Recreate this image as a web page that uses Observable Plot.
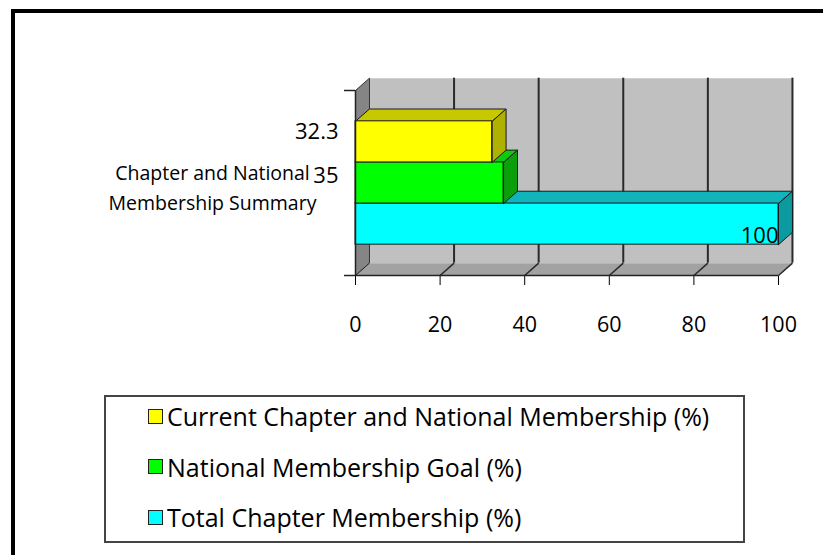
<!DOCTYPE html>
<html>
<head>
<meta charset="utf-8">
<script src="https://cdn.jsdelivr.net/npm/d3@7"></script>
<script src="https://cdn.jsdelivr.net/npm/@observablehq/plot@0.6"></script>
<style>
  html, body { margin: 0; padding: 0; background: #fff; }
  body { width: 823px; height: 555px; overflow: hidden; position: relative; font-family: "Open Sans", Lato, sans-serif; color: #000; }
  #frame { position: absolute; left: 11px; top: 9px; width: 900px; height: 700px; border-left: 4px solid #000; border-top: 4px solid #000; box-sizing: border-box; }
  #chart { position: absolute; left: 0; top: 0; }
  #legend { position: absolute; left: 104px; top: 395px; width: 641px; height: 148px; box-sizing: border-box; border: 2px solid #444; padding: 0 0 0 42px; }
  #rows { position: relative; top: -6px; }
  .row { display: flex; align-items: center; height: 50.5px; font-size: 25px; white-space: nowrap; }
  .sw { width: 13px; height: 13px; border: 1.5px solid #222; margin-right: 4px; flex: none; }
</style>
</head>
<body>
<div id="frame"></div>
<div id="chart"></div>
<div id="legend"><div id="rows"></div></div>
<script>
// ---- data ----
const categories = ["Chapter and National\nMembership Summary"];
const seriesNames = ["Current Chapter and National Membership (%)", "National Membership Goal (%)", "Total Chapter Membership (%)"];
const seriesValues = [32.3, 35, 100];
const valueLabels = ["32.3", "35", "100"];
const xTicks = [0, 20, 40, 60, 80, 100];

// ---- style ----
const frontColors = ["#ffff00", "#00ff00", "#00ffff"];
const topColors = ["#c8c800", "#10c810", "#12b4bc"];
const sideColors = ["#b0b000", "#0ba00b", "#0a9aa0"];
const DX = 3.3, DY = 0.3;          // 3D depth in scale units
const SLOTS = 4.5, GAP = 0.75;     // category slot height and outer gap (bar heights = 1)
const labelOffsets = [{dx: -17, dy: -10, atZero: true}, {dx: -17, dy: -7.5, atZero: true}, {dx: 0, dy: 11.5, atZero: false}];
const FONT = "'Open Sans', Lato, sans-serif";

const n = seriesNames.length;
const bars = seriesNames.map((name, i) => {
  const y0 = GAP + (n - 1 - i);
  return {name, i, value: seriesValues[i], label: valueLabels[i], y0, y1: y0 + 1};
});

function poly(pts, id) { return pts.concat([pts[0]]).map(([x, y]) => ({x, y, id})); }

const xMax = xTicks[xTicks.length - 1];
const backWall = poly([[DX, DY], [xMax + DX, DY], [xMax + DX, SLOTS + DY], [DX, SLOTS + DY]], "back");
const sideWall = poly([[0, 0], [DX, DY], [DX, SLOTS + DY], [0, SLOTS]], "side");
const floor = poly([[0, 0], [xMax, 0], [xMax + DX, DY], [DX, DY]], "floor");

const marks = [
  Plot.line(backWall, {x: "x", y: "y", fill: "#c0c0c0", stroke: "none"}),
  Plot.line(sideWall, {x: "x", y: "y", fill: "#858585", stroke: "#333", strokeWidth: 1}),
  Plot.line(floor, {x: "x", y: "y", fill: "#a2a2a2", stroke: "none"}),
  Plot.ruleX(xTicks.filter(t => t > 0), {x: t => t + DX, y1: DY, y2: SLOTS + DY, stroke: "#2a2a2a", strokeWidth: 2}),
  Plot.link(xTicks.filter(t => t > 0), {x1: t => t, y1: 0, x2: t => t + DX, y2: DY, stroke: "#2a2a2a", strokeWidth: 1.5}),
  Plot.link([0], {x1: 0, y1: 0, x2: DX, y2: DY, stroke: "#2a2a2a", strokeWidth: 1})
];

// bars drawn from bottom series up
[...bars].reverse().forEach(b => {
  const topFace = poly([[0, b.y1], [b.value, b.y1], [b.value + DX, b.y1 + DY], [DX, b.y1 + DY]], "t" + b.i);
  const sideFace = poly([[b.value, b.y0], [b.value + DX, b.y0 + DY], [b.value + DX, b.y1 + DY], [b.value, b.y1]], "s" + b.i);
  marks.push(
    Plot.line(topFace, {x: "x", y: "y", fill: topColors[b.i], stroke: "#1a1a1a", strokeWidth: 1}),
    Plot.line(sideFace, {x: "x", y: "y", fill: sideColors[b.i], stroke: "#1a1a1a", strokeWidth: 1}),
    Plot.rect([b], {x1: 0, x2: "value", y1: "y0", y2: "y1", fill: frontColors[b.i], stroke: "#1a1a1a", strokeWidth: 1})
  );
});

marks.push(
  Plot.ruleY([0], {x1: 0, x2: xMax, stroke: "#222", strokeWidth: 1.5}),
  Plot.ruleX([0], {y1: 0, y2: SLOTS, stroke: "#222", strokeWidth: 1.5}),
  Plot.ruleY([0, SLOTS], {x1: -2.6, x2: 0, stroke: "#222", strokeWidth: 1.5}),
  Plot.text(categories, {x: 0, y: SLOTS / 2, text: d => d, dx: -143, dy: 2, textAnchor: "middle", lineHeight: 1.54, fontSize: 19.5, fill: "#000"}),
  ...bars.map(b => {
    const o = labelOffsets[b.i];
    return Plot.text([b], {x: o.atZero ? 0 : "value", y: d => (d.y0 + d.y1) / 2, text: "label", dx: o.dx, dy: o.dy, textAnchor: "end", fontSize: 22, fill: "#000"});
  })
);

const chart = Plot.plot({
  width: 823,
  height: 360,
  marginLeft: 355,
  marginRight: 45,
  marginTop: 90,
  marginBottom: 85,
  style: {fontFamily: FONT, fontSize: "21.5px", color: "#000", background: "transparent", overflow: "visible"},
  x: {domain: [0, xMax], ticks: xTicks, tickSize: 10, tickPadding: 31, tickFormat: d => String(d), label: null},
  y: {domain: [0, SLOTS], axis: null},
  marks
});
document.getElementById("chart").appendChild(chart);

// legend
const rows = document.getElementById("rows");
seriesNames.forEach((name, i) => {
  const row = document.createElement("div");
  row.className = "row";
  const sw = document.createElement("span");
  sw.className = "sw";
  sw.style.background = frontColors[i];
  const t = document.createElement("span");
  t.textContent = name;
  row.appendChild(sw);
  row.appendChild(t);
  rows.appendChild(row);
});
</script>
</body>
</html>
